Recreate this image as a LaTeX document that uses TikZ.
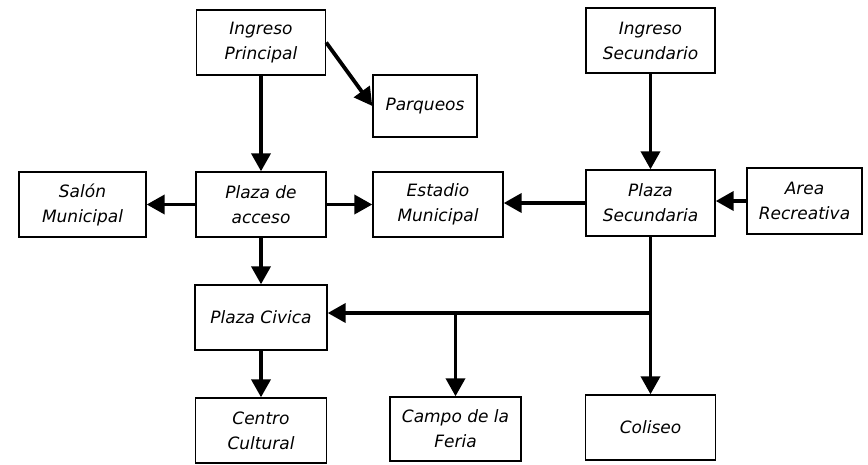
\documentclass[tikz,border=0pt]{standalone}
\usepackage{fontspec}
\setmainfont{DejaVu Sans}
\usetikzlibrary{arrows.meta}
\begin{document}
\begin{tikzpicture}[x=1pt,y=-1pt,
  box/.style={draw,line width=1.4pt,minimum width=129pt,minimum height=65pt,inner sep=2pt,align=center,
    font=\fontsize{17}{25}\selectfont\itshape},
  arr/.style={line width=3.8pt,-{Triangle[length=18pt,width=19pt]}}]
\useasboundingbox (0,0) rectangle (868,464);
\node[box] (ip) at (261,42.5) {Ingreso\\Principal};
\node[box,minimum width=104pt,minimum height=62pt] (pq) at (425,106) {Parqueos};
\node[box,minimum width=127pt] (sm) at (82.5,204.5) {Salón\\Municipal};
\node[box,minimum width=130pt] (pa) at (261,204.5) {Plaza de\\acceso};
\node[box,minimum width=130pt] (es) at (438,204.5) {Estadio\\Municipal};
\node[box] (is) at (650.5,40.5) {Ingreso\\Secundario};
\node[box,minimum height=66pt] (ps) at (650.5,203) {Plaza\\Secundaria};
\node[box,minimum width=115pt,minimum height=66pt] (ar) at (804.5,201) {Area\\Recreativa};
\node[box,minimum width=132pt] (pc) at (261,317.5) {Plaza Civica};
\node[box,minimum width=131pt] (cc) at (261,430.5) {Centro\\Cultural};
\node[box,minimum width=131pt,minimum height=64pt] (cf) at (455.5,429) {Campo de la\\Feria};
\node[box,minimum width=130pt] (co) at (650.5,427.5) {Coliseo};
\coordinate (j) at (650.5,313);
\coordinate (b) at (455.5,313);
\draw[arr] (ip.south) -- (pa.north);
\draw[arr] (ip.east) -- (pq.west);
\draw[arr] (pa.west) -- (sm.east);
\draw[arr] (pa.east) -- (es.west);
\draw[arr] (is.south) -- (ps.north);
\draw[arr] (ps.west) -- (ps.west -| es.east);
\draw[arr] (ar.west) -- (ar.west -| ps.east);
\draw[arr] (pa.south) -- (pc.north);
\draw[arr] (pc.south) -- (cc.north);
\draw[arr] (ps.south) -- (j) -- (co.north);
\draw[arr] (j) -- (j -| pc.east);
\draw[arr] (b) -- (cf.north);
\end{tikzpicture}
\end{document}
